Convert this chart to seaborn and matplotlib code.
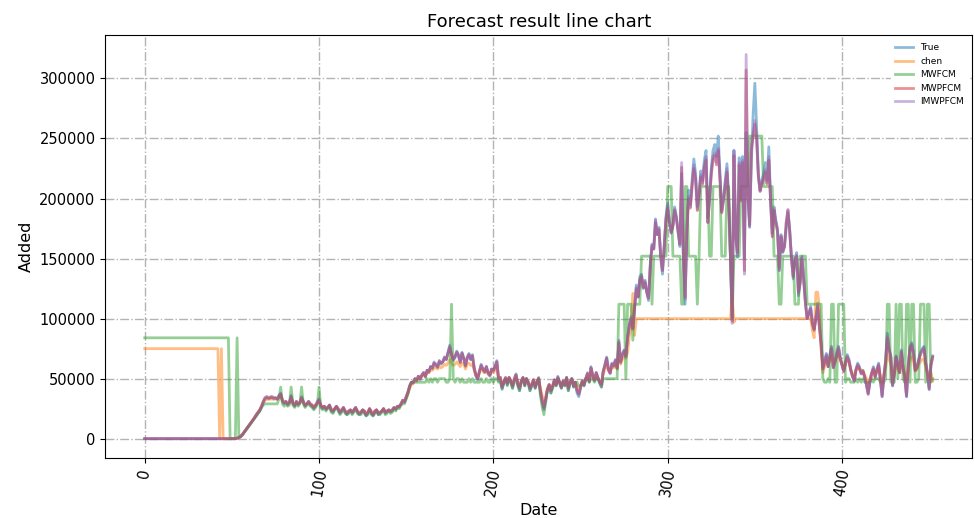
import numpy as np
import pandas as pd
import matplotlib
matplotlib.use('Agg')
import matplotlib.pyplot as plt
import seaborn as sns

# values in thousands of cases, one per date index (0..452)
true_vals = [
    0, 0, 0, 0, 0, 0, 0, 0, 0, 0,
    0, 0, 0, 0, 0, 0, 0, 0, 0, 0,
    0, 0, 0, 0, 0, 0, 0, 0, 0, 0,
    0, 0, 0, 0, 0, 0, 0, 0, 0, 0,
    0, 0, 0, 0, 0, 0, 0, 0, 0, 0,
    0, 0, 0, 0.3, 0.8, 1.5, 3, 5, 7, 9,
    11, 13, 15, 17, 19, 21, 23, 26, 30, 33,
    34, 33, 34, 34, 33, 34, 33, 36, 38, 31,
    29, 31, 28, 30, 36, 29, 27, 31, 28, 30,
    35, 30, 27, 29, 31, 28, 27, 25, 27, 30,
    33, 27, 25, 27, 24, 26, 28, 23, 22, 25,
    27, 24, 21, 23, 26, 22, 20, 22, 24, 21,
    23, 26, 22, 20, 21, 24, 22, 19, 21, 25,
    21, 19, 22, 24, 20, 21, 23, 25, 21, 22,
    24, 22, 23, 26, 24, 27, 26, 29, 32, 30,
    34, 38, 44, 47, 46, 50, 48, 52, 49, 53,
    55, 51, 57, 55, 60, 58, 63, 61, 59, 65,
    62, 64, 68, 66, 72, 78, 70, 65, 68, 73,
    70, 63, 72, 67, 60, 68, 71, 66, 70, 58,
    52, 49, 56, 62, 58, 55, 60, 54, 52, 58,
    56, 60, 65, 48, 50, 41, 46, 50, 45, 51,
    47, 42, 49, 54, 45, 40, 47, 51, 44, 50,
    46, 40, 44, 49, 42, 47, 51, 38, 30, 24,
    32, 40, 45, 38, 43, 49, 44, 52, 46, 42,
    48, 44, 51, 40, 46, 50, 43, 47, 38, 35,
    42, 48, 44, 50, 55, 47, 60, 52, 48, 55,
    50, 46, 43, 56, 62, 68, 57, 54, 63, 60,
    66, 58, 82, 63, 70, 74, 68, 85, 95, 102,
    91, 110, 128, 118, 135, 137, 125, 132, 122, 115,
    145, 162, 158, 183, 170, 176, 150, 137, 160, 185,
    196, 180, 171, 178, 193, 185, 172, 160, 221, 150,
    112, 176, 207, 195, 215, 233, 221, 193, 205, 223,
    215, 232, 240, 184, 200, 225, 240, 245, 235, 252,
    220, 190, 201, 215, 229, 200, 150, 101, 240, 170,
    151, 234, 200, 235, 150, 255, 205, 176, 230, 270,
    296, 260, 221, 207, 215, 221, 230, 215, 243, 200,
    171, 193, 182, 175, 140, 170, 155, 160, 175, 188,
    174, 150, 133, 150, 155, 119, 130, 152, 133, 115,
    100, 105, 110, 96, 90, 100, 113, 95, 80, 60,
    65, 71, 60, 70, 77, 60, 65, 72, 77, 68,
    62, 57, 64, 70, 66, 58, 52, 49, 58, 63,
    60, 55, 57, 52, 45, 38, 48, 55, 60, 52,
    58, 63, 50, 35, 52, 65, 88, 75, 69, 44,
    55, 69, 62, 55, 74, 60, 52, 35, 62, 77,
    80, 72, 57, 60, 66, 72, 75, 77, 64, 55,
    41, 62, 69,
]

chen_vals = [
    75, 75, 75, 75, 75, 75, 75, 75, 75, 75,
    75, 75, 75, 75, 75, 75, 75, 75, 75, 75,
    75, 75, 75, 75, 75, 75, 75, 75, 75, 75,
    75, 75, 75, 75, 75, 75, 75, 75, 75, 75,
    75, 75, 75, 0, 75, 0, 0, 0, 0, 0,
    0, 0, 0, 0.5, 1, 2, 3.5, 5.5, 7.5, 9.5,
    11.5, 13.5, 15.5, 18, 20, 22, 24, 27, 30, 32,
    33, 33, 33, 33, 33, 33, 33, 34, 36, 32,
    30, 30, 29, 30, 33, 30, 28, 30, 29, 30,
    33, 30, 28, 29, 30, 29, 28, 27, 28, 29,
    31, 28, 26, 27, 26, 26, 27, 25, 24, 25,
    26, 25, 23, 24, 25, 23, 22, 23, 24, 23,
    24, 25, 23, 22, 22, 24, 23, 21, 22, 25,
    23, 21, 23, 24, 22, 22, 23, 25, 23, 23,
    24, 23, 24, 25, 25, 26, 27, 28, 31, 31,
    34, 38, 42, 45, 46, 48, 48, 50, 50, 52,
    53, 52, 55, 55, 57, 57, 59, 59, 58, 60,
    59, 60, 62, 61, 63, 66, 63, 61, 62, 64,
    62, 60, 63, 62, 58, 62, 63, 61, 62, 57,
    53, 51, 55, 58, 56, 55, 57, 54, 53, 56,
    55, 57, 60, 50, 51, 45, 48, 50, 47, 51,
    48, 45, 49, 52, 47, 44, 48, 50, 46, 50,
    47, 44, 46, 49, 45, 48, 50, 42, 36, 30,
    35, 42, 45, 41, 44, 48, 45, 50, 47, 44,
    48, 46, 50, 43, 47, 49, 45, 47, 42, 40,
    44, 48, 46, 49, 52, 48, 56, 52, 49, 53,
    50, 48, 46, 54, 58, 62, 57, 55, 60, 59,
    62, 58, 70, 62, 66, 68, 67, 72, 85, 95,
    121, 86, 100, 100, 100, 100, 100, 100, 100, 100,
    100, 100, 100, 100, 100, 100, 100, 100, 100, 100,
    100, 100, 100, 100, 100, 100, 100, 100, 100, 100,
    100, 100, 100, 100, 100, 100, 100, 100, 100, 100,
    100, 100, 100, 100, 100, 100, 100, 100, 100, 100,
    100, 100, 100, 100, 100, 100, 100, 118, 97, 100,
    100, 100, 100, 100, 100, 100, 100, 100, 100, 100,
    100, 100, 100, 100, 100, 100, 100, 100, 100, 100,
    100, 100, 100, 100, 100, 100, 100, 100, 100, 100,
    100, 100, 100, 100, 100, 100, 100, 100, 100, 100,
    100, 100, 100, 90, 84, 122, 122, 110, 75, 55,
    60, 66, 62, 66, 70, 62, 64, 68, 70, 66,
    62, 58, 62, 66, 64, 58, 54, 52, 57, 60,
    58, 56, 57, 53, 50, 46, 50, 55, 58, 53,
    56, 60, 52, 45, 52, 60, 70, 66, 62, 50,
    55, 63, 58, 55, 65, 58, 54, 47, 58, 66,
    68, 64, 56, 58, 62, 64, 66, 66, 60, 54,
    50, 55, 48,
]

mwfcm_vals = [
    84, 84, 84, 84, 84, 84, 84, 84, 84, 84,
    84, 84, 84, 84, 84, 84, 84, 84, 84, 84,
    84, 84, 84, 84, 84, 84, 84, 84, 84, 84,
    84, 84, 84, 84, 84, 84, 84, 84, 84, 84,
    84, 84, 84, 84, 84, 84, 84, 84, 84, 0,
    0, 0, 0, 84, 1, 1.5, 3, 5, 7, 9,
    11, 13, 15, 17, 19, 21, 23, 26, 28, 29,
    29, 29, 29, 29, 29, 29, 29, 33, 43, 29,
    27, 29, 27, 28, 43, 28, 26, 29, 27, 29,
    43, 29, 26, 28, 29, 27, 26, 24, 26, 28,
    43, 26, 24, 26, 23, 25, 27, 22, 21, 24,
    26, 23, 20, 22, 25, 21, 20, 21, 23, 20,
    22, 25, 21, 20, 20, 23, 21, 19, 20, 24,
    20, 19, 21, 23, 20, 20, 22, 24, 20, 21,
    23, 21, 22, 25, 23, 26, 25, 28, 29, 29,
    33, 37, 43, 47, 47, 47, 47, 47, 47, 47,
    47, 47, 50, 47, 50, 47, 50, 50, 47, 50,
    50, 50, 50, 47, 47, 50, 112, 50, 47, 50,
    50, 47, 50, 47, 47, 47, 50, 47, 50, 47,
    47, 47, 47, 50, 47, 47, 50, 47, 47, 50,
    47, 50, 50, 47, 47, 42, 47, 50, 44, 50,
    47, 42, 47, 50, 44, 40, 47, 50, 44, 50,
    47, 40, 44, 47, 42, 47, 50, 36, 26, 20,
    30, 40, 44, 38, 42, 47, 44, 50, 47, 42,
    47, 44, 50, 40, 47, 50, 43, 47, 47, 44,
    44, 47, 44, 50, 50, 47, 50, 50, 47, 50,
    50, 47, 43, 50, 50, 50, 50, 50, 50, 50,
    50, 50, 112, 112, 112, 112, 50, 112, 112, 112,
    82, 112, 112, 112, 112, 152, 152, 152, 152, 152,
    152, 112, 152, 152, 152, 152, 152, 152, 152, 152,
    210, 210, 210, 152, 152, 152, 152, 152, 112, 112,
    210, 210, 152, 152, 152, 152, 152, 112, 152, 210,
    210, 210, 210, 210, 152, 152, 210, 210, 210, 210,
    210, 152, 152, 152, 210, 210, 152, 100, 152, 152,
    152, 152, 210, 210, 210, 210, 210, 252, 252, 252,
    252, 252, 252, 252, 252, 210, 210, 210, 210, 210,
    210, 152, 152, 152, 112, 112, 152, 152, 152, 152,
    152, 152, 152, 112, 112, 112, 152, 152, 152, 152,
    112, 112, 112, 112, 112, 112, 112, 112, 112, 50,
    47, 47, 50, 47, 112, 112, 47, 47, 112, 112,
    112, 112, 47, 50, 50, 47, 47, 47, 50, 47,
    50, 47, 50, 47, 47, 47, 47, 50, 47, 50,
    50, 50, 47, 47, 47, 50, 112, 112, 47, 47,
    47, 112, 50, 112, 112, 50, 47, 112, 112, 47,
    112, 112, 47, 47, 50, 112, 112, 112, 47, 112,
    112, 47, 50,
]

mwpfcm_vals = [
    0, 0, 0, 0, 0, 0, 0, 0, 0, 0,
    0, 0, 0, 0, 0, 0, 0, 0, 0, 0,
    0, 0, 0, 0, 0, 0, 0, 0, 0, 0,
    0, 0, 0, 0, 0, 0, 0, 0, 0, 0,
    0, 0, 0, 0, 0, 0, 0, 0, 0, 0,
    0, 0, 0, 0.5, 1, 2, 3.5, 5.5, 7.5, 9.5,
    11.5, 13.5, 15.5, 17.5, 20, 22, 24, 27, 31, 34,
    35, 34, 34, 35, 34, 34, 33, 35, 37, 32,
    30, 31, 29, 30, 35, 30, 28, 31, 29, 30,
    34, 31, 28, 29, 31, 29, 28, 26, 28, 30,
    32, 28, 26, 27, 25, 26, 28, 24, 23, 25,
    27, 25, 22, 24, 26, 23, 21, 23, 24, 22,
    24, 26, 23, 21, 22, 24, 23, 20, 22, 25,
    22, 20, 23, 24, 21, 22, 23, 25, 22, 23,
    24, 23, 24, 26, 25, 27, 27, 29, 32, 31,
    35, 39, 44, 47, 47, 50, 49, 52, 50, 53,
    55, 52, 57, 56, 60, 59, 63, 62, 60, 64,
    63, 64, 67, 66, 71, 76, 70, 66, 68, 72,
    69, 64, 71, 67, 61, 67, 70, 66, 69, 59,
    53, 50, 56, 61, 58, 56, 60, 55, 53, 58,
    57, 60, 64, 50, 51, 43, 47, 51, 46, 51,
    48, 44, 50, 53, 46, 42, 48, 51, 45, 50,
    47, 42, 45, 49, 43, 47, 50, 40, 32, 26,
    33, 41, 45, 40, 44, 49, 45, 51, 47, 43,
    48, 45, 51, 42, 47, 50, 44, 47, 40, 37,
    43, 48, 45, 50, 54, 48, 59, 53, 49, 55,
    51, 47, 45, 56, 61, 67, 58, 55, 62, 61,
    65, 59, 80, 64, 70, 73, 69, 84, 94, 100,
    92, 108, 125, 118, 132, 135, 126, 130, 122, 117,
    143, 160, 158, 180, 170, 174, 152, 140, 160, 182,
    192, 180, 172, 177, 190, 183, 172, 162, 226, 152,
    118, 172, 200, 192, 210, 225, 216, 190, 203, 218,
    212, 226, 232, 180, 198, 220, 232, 236, 228, 240,
    215, 188, 198, 210, 222, 196, 152, 98, 236, 168,
    155, 228, 198, 230, 140, 307, 202, 178, 240, 252,
    262, 250, 218, 206, 212, 216, 222, 212, 232, 198,
    168, 190, 180, 172, 142, 168, 156, 160, 180, 190,
    172, 150, 135, 148, 152, 122, 130, 150, 132, 112,
    100, 104, 108, 96, 91, 100, 110, 93, 78, 58,
    63, 69, 60, 68, 75, 59, 64, 70, 75, 66,
    61, 56, 63, 68, 64, 57, 52, 48, 57, 61,
    58, 54, 56, 51, 45, 37, 47, 54, 58, 51,
    57, 61, 49, 36, 52, 64, 84, 74, 68, 45,
    54, 68, 61, 55, 72, 59, 51, 36, 61, 75,
    78, 70, 57, 59, 65, 70, 73, 75, 63, 54,
    42, 61, 68,
]

imwpfcm_vals = [
    0, 0, 0, 0, 0, 0, 0, 0, 0, 0,
    0, 0, 0, 0, 0, 0, 0, 0, 0, 0,
    0, 0, 0, 0, 0, 0, 0, 0, 0, 0,
    0, 0, 0, 0, 0, 0, 0, 0, 0, 0,
    0, 0, 0, 0, 0, 0, 0, 0, 0, 0,
    0, 0, 0, 0.4, 1, 2, 3.5, 5.5, 7.5, 9.5,
    11.5, 13.5, 15.5, 17.5, 20, 22, 24, 27, 31, 34,
    35, 34, 35, 35, 34, 34, 33, 36, 37, 32,
    30, 31, 29, 30, 35, 30, 28, 31, 29, 30,
    34, 31, 28, 29, 31, 29, 28, 26, 28, 31,
    33, 28, 26, 27, 25, 26, 28, 24, 23, 25,
    27, 25, 22, 24, 26, 23, 21, 23, 24, 22,
    24, 26, 23, 21, 22, 24, 23, 20, 22, 25,
    22, 20, 23, 24, 21, 22, 23, 25, 22, 23,
    24, 23, 24, 26, 25, 27, 27, 29, 32, 31,
    35, 39, 44, 47, 47, 50, 49, 52, 50, 53,
    55, 52, 57, 56, 60, 59, 64, 62, 60, 65,
    63, 64, 68, 66, 72, 77, 70, 66, 68, 72,
    69, 64, 71, 67, 61, 67, 70, 66, 69, 59,
    53, 50, 56, 61, 58, 56, 60, 55, 53, 58,
    57, 60, 64, 50, 51, 43, 47, 51, 46, 51,
    48, 44, 50, 53, 46, 42, 48, 51, 45, 50,
    47, 42, 45, 49, 43, 47, 50, 40, 32, 26,
    33, 41, 45, 40, 44, 49, 45, 51, 47, 43,
    48, 45, 51, 42, 47, 50, 44, 47, 40, 37,
    43, 48, 45, 50, 54, 48, 59, 53, 49, 55,
    51, 47, 45, 56, 61, 67, 58, 55, 62, 61,
    65, 59, 80, 64, 70, 73, 69, 84, 94, 100,
    92, 108, 126, 118, 133, 136, 126, 131, 122, 117,
    144, 161, 158, 182, 170, 175, 152, 140, 160, 183,
    194, 180, 172, 177, 191, 184, 172, 162, 230, 150,
    116, 174, 202, 193, 212, 228, 216, 191, 204, 220,
    213, 228, 235, 180, 199, 222, 235, 238, 230, 242,
    217, 189, 199, 212, 225, 197, 150, 96, 240, 168,
    153, 230, 199, 232, 137, 320, 203, 177, 242, 253,
    265, 250, 219, 206, 213, 218, 224, 213, 235, 199,
    169, 191, 181, 173, 140, 169, 156, 161, 181, 191,
    173, 151, 135, 149, 153, 121, 131, 151, 133, 113,
    100, 104, 109, 96, 91, 101, 111, 94, 79, 58,
    64, 70, 60, 69, 76, 59, 64, 71, 76, 67,
    61, 56, 63, 69, 65, 57, 52, 48, 57, 62,
    59, 54, 56, 51, 45, 37, 47, 54, 59, 51,
    57, 62, 49, 35, 52, 64, 86, 74, 68, 44,
    54, 68, 61, 55, 73, 59, 51, 35, 61, 76,
    79, 71, 57, 59, 65, 71, 74, 76, 63, 54,
    41, 61, 68,
]

series_names = ['True', 'chen', 'MWFCM', 'MWPFCM', 'IMWPFCM']
series_vals = [true_vals, chen_vals, mwfcm_vals, mwpfcm_vals, imwpfcm_vals]
colors = ['#1f77b4', '#ff7f0e', '#2ca02c', '#d62728', '#9467bd']

fig, ax = plt.subplots(figsize=(9.75, 5.18), dpi=100)
fig.subplots_adjust(left=0.108, right=0.997, top=0.932, bottom=0.116)

for name, vals, c in zip(series_names, series_vals, colors):
    y = np.array(vals, dtype=float) * 1000
    x = np.arange(len(y))
    sns.lineplot(x=x, y=y, ax=ax, color=c, alpha=0.5, linewidth=2, label=name)

ax.grid(True, linestyle='-.', color='0.7', linewidth=1)
ax.set_axisbelow(True)
ax.set_title('Forecast result line chart', fontsize=13)
ax.set_xlabel('Date', fontsize=11.5)
ax.set_ylabel('Added', fontsize=11.5)
ax.tick_params(axis='both', labelsize=10.5)
ax.tick_params(axis='x', labelrotation=80)
ax.legend(loc='upper right', fontsize=6.5, framealpha=1, edgecolor='white')

plt.savefig('out.png', dpi=100)
